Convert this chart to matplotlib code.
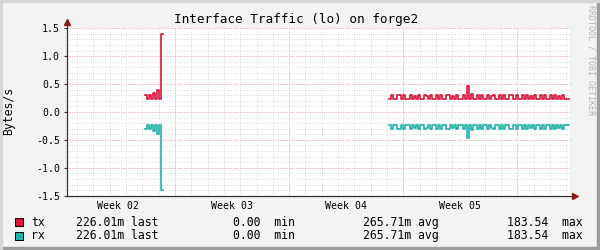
import matplotlib.pyplot as plt
import numpy as np
from matplotlib.patches import Rectangle

# x axis in days from the left edge of the graph
x_max = 30.84
week_starts = [6.62, 13.62, 20.62, 27.62]
week_labels = ['Week 02', 'Week 03', 'Week 04', 'Week 05']
step = 0.125  # one sample every 3 hours

# tx in Bytes/s, rx is the same traffic drawn below zero
seg1_start = 4.78
seg1_tx = [0.30, 0.226, 0.30, 0.226, 0.34, 0.226, 0.40, 0.226, 1.40]
seg2_start = 19.75
seg2_tx = [0.23, 0.31, 0.23, 0.23, 0.31, 0.31, 0.23, 0.31,
           0.23, 0.23, 0.31, 0.23, 0.29, 0.23, 0.31, 0.23,
           0.23, 0.31, 0.29, 0.23, 0.31, 0.23, 0.23, 0.31,
           0.23, 0.31, 0.23, 0.23, 0.31, 0.31, 0.23, 0.29,
           0.23, 0.31, 0.23, 0.23, 0.31, 0.23, 0.46, 0.23,
           0.33, 0.23, 0.23, 0.31, 0.23, 0.31, 0.23, 0.23,
           0.31, 0.23, 0.29, 0.31, 0.23, 0.23, 0.31, 0.23,
           0.31, 0.23, 0.23, 0.31, 0.31, 0.23, 0.31, 0.23,
           0.23, 0.31, 0.23, 0.31, 0.23, 0.29, 0.23, 0.31,
           0.23, 0.23, 0.31, 0.23, 0.31, 0.23, 0.23, 0.31,
           0.23, 0.31, 0.23, 0.29, 0.23, 0.31, 0.23, 0.226]

legend_names = ['tx', 'rx']
legend_colors = ['#DC143C', '#20B2AA']
stat_last = ['226.01m last', '226.01m last']
stat_min = ['0.00  min', '0.00  min']
stat_avg = ['265.71m avg', '265.71m avg']
stat_max = ['183.54  max', '183.54  max']

plt.rcParams['font.family'] = 'DejaVu Sans Mono'

fig = plt.figure(figsize=(6, 2.5), dpi=100, facecolor='#F3F3F3')
ax = fig.add_axes([67/600, 1 - 195.7/250, 503/600, 167.4/250])
ax.set_facecolor('white')
ax.set_xlim(0, x_max)
ax.set_ylim(-1.5, 1.5)

# grid
minor_y = np.round(np.arange(-1.5, 1.51, 0.1), 2)
major_y = [-1.0, -0.5, 0.0, 0.5, 1.0, 1.5]
days = np.arange(week_starts[0] - 6, x_max, 1.0)
dots = (0, (1.4, 1.4))
for y in minor_y:
    ax.axhline(y, color='#DCDCDC', lw=0.6, ls=dots, zorder=0.5)
for d in days:
    ax.axvline(d, color='#DCDCDC', lw=0.6, ls=dots, zorder=0.5)
for y in major_y:
    ax.axhline(y, color='#F4AFAF', lw=0.6, ls=dots, zorder=0.6)
for d in week_starts:
    ax.axvline(d, color='#F4AFAF', lw=0.6, ls=dots, zorder=0.6)

# data
for start, vals in [(seg1_start, seg1_tx), (seg2_start, seg2_tx)]:
    t = start + step * np.arange(len(vals) + 1)
    v = np.array(vals + [vals[-1]])
    ax.plot(t, v, drawstyle='steps-post', color=legend_colors[0], lw=1.2, zorder=2)
    ax.plot(t, -v, drawstyle='steps-post', color=legend_colors[1], lw=1.2, zorder=2)

# axes
for s in ['top', 'right']:
    ax.spines[s].set_visible(False)
for s in ['left', 'bottom']:
    ax.spines[s].set_color('#303030')
    ax.spines[s].set_linewidth(0.8)
ax.plot([0, 0], [0, 1.035], transform=ax.transAxes, color='#303030', lw=0.8, clip_on=False)
ax.plot([0, 1.01], [0, 0], transform=ax.transAxes, color='#303030', lw=0.8, clip_on=False)
ax.plot(0, 1.035, marker='^', ms=4, color='#8B1A1A', transform=ax.transAxes, clip_on=False)
ax.plot(1.01, 0, marker='>', ms=4, color='#8B1A1A', transform=ax.transAxes, clip_on=False)

yt = [-1.5, -1.0, -0.5, 0.0, 0.5, 1.0, 1.5]
ax.set_yticks(yt, ['%.1f' % y for y in yt])
ax.tick_params(axis='y', length=2, pad=3, labelsize=7.1, color='#303030')
ax.set_xticks([w - 3.5 for w in week_starts], week_labels)
ax.tick_params(axis='x', length=0, pad=4, labelsize=7.1)

# text
fig.text(296/600, 1 - 20/250, 'Interface Traffic (lo) on forge2', ha='center', va='center', fontsize=9.2)
fig.text(9/600, 1 - 111/250, 'Bytes/s', rotation=90, ha='center', va='center', fontsize=8.3)
fig.text(591/600, 1 - 5/250, 'RRDTOOL / TOBI OETIKER', rotation=270, ha='center', va='top',
         fontsize=6.0, color='#B4B4B4')

rows_y = [222.3, 235.7]
for i in range(2):
    y = 1 - rows_y[i]/250
    fig.patches.append(Rectangle((15/600, y - 4/250), 8/600, 8/250, transform=fig.transFigure,
                                 facecolor=legend_colors[i], edgecolor='black', lw=0.7))
    fig.text(31/600, y, legend_names[i], va='center', fontsize=8.3)
    fig.text(76/600, y, stat_last[i], va='center', fontsize=8.3)
    fig.text(233/600, y, stat_min[i], va='center', fontsize=8.3)
    fig.text(363/600, y, stat_avg[i], va='center', fontsize=8.3)
    fig.text(507/600, y, stat_max[i], va='center', fontsize=8.3)

# border
fig.patches.append(Rectangle((0, 0), 1, 3/250, transform=fig.transFigure, color='#9C9C9C'))
fig.patches.append(Rectangle((597/600, 0), 3/600, 1, transform=fig.transFigure, color='#9C9C9C'))
fig.patches.append(Rectangle((0, 0), 2/600, 1, transform=fig.transFigure, color='#D6D6D6'))
fig.patches.append(Rectangle((0, 1 - 2/250), 1, 2/250, transform=fig.transFigure, color='#D6D6D6'))

fig.savefig('out.png', dpi=100, facecolor=fig.get_facecolor())
